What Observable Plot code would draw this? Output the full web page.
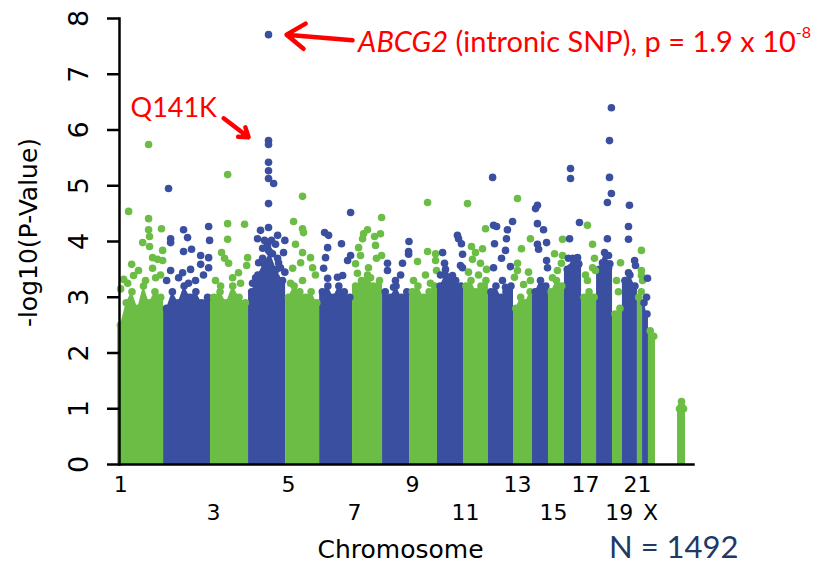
<!DOCTYPE html>
<html><head><meta charset="utf-8">
<script src="https://cdn.jsdelivr.net/npm/d3@7"></script>
<script src="https://cdn.jsdelivr.net/npm/@observablehq/plot@0.6"></script>
<style>
body{margin:0;background:#fff;}
#chart{width:821px;height:565px;}
</style></head><body><div id="chart"></div>
<script>
// Chromosomes (cumulative genome position, Mb)
const chroms = ["1","2","3","4","5","6","7","8","9","10","11","12","13","14","15","16","17","18","19","20","21","22","X","XY"];
const chromGroup = ["A","B","A","B","A","B","A","B","A","B","A","B","A","B","A","B","A","B","A","B","A","B","A","A"];
const chromStart = [0,242,489,689,884,1063,1236,1394,1536,1683,1820,1951,2083,2183,2267,2351,2441,2520,2604,2656,2735,2762,2793,2946];
const chromEnd   = [242,489,689,884,1063,1236,1394,1536,1683,1820,1951,2083,2183,2267,2351,2441,2520,2604,2656,2735,2762,2793,2830,2988];
// top of the dense (solid) cloud of SNPs across each chromosome, -log10(p)
const chromProfile = [
  [2.5,2.9,3.1,2.8,3.2,2.9,3.1,3.0],
  [2.8,3.1,2.9,3.2,3.0,3.1,2.9,3.0],
  [3.0,3.1,2.9,3.2,3.0,2.9],
  [3.1,3.4,3.6,3.8,3.5,3.3],
  [3.0,3.2,3.1,3.0,3.1,2.9],
  [3.1,3.2,3.0,3.2,3.1,3.0],
  [3.2,3.3,3.4,3.2,3.3],
  [3.1,3.0,3.2,3.0,3.1],
  [3.1,3.2,3.0,3.1,3.2],
  [3.2,3.4,3.2,3.3,3.2],
  [3.2,3.3,3.1,3.2,3.3],
  [3.1,3.2,3.0,3.1,3.2],
  [2.8,3.0,2.9,3.1],
  [3.1,3.3,3.2],
  [3.1,3.3,3.2],
  [3.5,3.7,3.6],
  [3.0,3.1,3.0],
  [3.5,3.8,3.6],
  [2.7,2.8],
  [3.3,3.4,3.2],
  [3.0,3.1],
  [2.9,2.7],
  [2.4,2.3],
  [1.0,1.0]
];
// individual SNPs above the dense cloud: [chromosome, position (Mb), -log10(p)]
const hitPoints = [
  ["1",163,5.74],["1",58,4.54],["1",163,4.41],["1",163,4.21],["1",231,4.23],["1",168,4.09],["1",132,3.98],["1",168,3.91],["1",237,3.84],["1",184,3.71],["1",210,3.68],["1",237,3.66],["1",74,3.59],["1",110,3.48],["1",184,3.52],["1",84,3.39],["1",32,3.32],["1",147,3.30],["1",200,3.35],["1",53,3.25],["1",226,3.40],["1",16,3.15],
  ["2",268,4.95],["2",347,4.21],["2",368,4.07],["2",279,4.05],["2",279,3.98],["2",347,3.82],["2",389,3.86],["2",437,3.75],["2",479,4.27],["2",484,4.02],["2",279,3.48],["2",342,3.44],["2",384,3.50],["2",437,3.59],["2",479,3.71],["2",479,3.53],["2",410,3.30],["2",321,3.35],["2",373,3.25],["2",452,3.40],["2",258,3.30],
  ["3",579,5.20],["3",579,4.32],["3",668,4.31],["3",579,4.04],["3",547,3.80],["3",563,3.70],["3",584,3.61],["3",636,3.44],["3",684,3.71],["3",679,3.57],["3",605,3.35],["3",515,3.30],["3",647,3.25],["3",542,3.20],
  ["4",794,7.71],["4",794,5.81],["4",794,5.74],["4",794,5.42],["4",794,5.27],["4",794,5.13],["4",821,5.04],["4",794,4.68],["4",736,4.05],["4",752,4.20],["4",794,4.25],["4",842,4.11],["4",880,4.02],["4",789,3.93],["4",794,3.84],["4",873,3.80],["4",763,3.70],["4",842,3.70],["4",778,3.53],["4",857,3.53],["4",794,3.43],["4",726,3.35],["4",773,4.02],["4",810,4.02],["4",831,3.95],["4",763,3.88],["4",815,3.78],["4",742,3.62],["4",847,3.62],["4",880,3.45],["4",710,3.25],["4",805,3.30],
  ["5",973,4.81],["5",973,4.23],["5",926,4.36],["5",973,3.80],["5",921,3.52],["5",973,3.30],["5",978,4.16],["5",1015,3.71],["5",1026,3.53],["5",936,3.95],["5",963,3.62],["5",1041,3.40],["5",910,3.25],
  ["6",1226,4.52],["6",1089,4.16],["6",1110,4.11],["6",1178,3.96],["6",1105,3.89],["6",1094,3.71],["6",1084,3.52],["6",1105,3.34],["6",1210,3.66],["6",1226,3.75],["6",1157,3.36],["6",1184,3.39],
  ["7",1389,4.43],["7",1315,4.21],["7",1294,4.14],["7",1289,4.05],["7",1352,4.09],["7",1383,4.14],["7",1268,3.89],["7",1278,3.75],["7",1320,3.53],["7",1262,3.43],["7",1357,3.93],["7",1362,3.70],["7",1389,3.75],["7",1252,3.60],["7",1331,3.35],
  ["8",1420,3.61],["8",1420,3.48],["8",1452,3.18],["8",1533,4.00],["8",1531,3.82],["8",1531,3.77],["8",1499,3.61],["8",1489,3.40],["8",1462,3.30],
  ["9",1631,4.70],["9",1631,3.82],["9",1673,3.78],["9",1578,3.64],["9",1673,3.66],["9",1678,3.48],["9",1620,3.40],["9",1557,3.30],["9",1646,3.25],
  ["10",1788,4.11],["10",1794,4.05],["10",1809,3.96],["10",1720,3.61],["10",1725,3.50],["10",1762,3.39],["10",1804,3.57],["10",1815,3.53],["10",1815,3.77],["10",1710,3.80],["10",1746,3.30],["10",1699,3.40],
  ["11",1841,4.68],["11",1862,3.91],["11",1883,3.80],["11",1920,3.87],["11",1867,3.68],["11",1909,3.61],["11",1936,4.23],["11",1899,3.40],["11",1846,3.45],["11",1941,3.50],
  ["12",1973,5.15],["12",1978,4.29],["12",1994,4.27],["12",2078,4.36],["12",1983,3.96],["12",2046,4.05],["12",2041,3.84],["12",2020,3.70],["12",1978,3.53],["12",2025,3.30],["12",2041,3.18],["12",2051,4.21],["12",2067,3.55],
  ["13",2104,4.77],["13",2125,3.87],["13",2104,3.61],["13",2104,3.48],["13",2088,3.36],["13",2136,3.23],["13",2172,4.05],["13",2162,3.45],["13",2172,3.30],
  ["14",2209,4.65],["14",2199,4.59],["14",2209,4.32],["14",2241,4.21],["14",2209,3.95],["14",2215,3.86],["14",2257,3.98],["14",2257,3.66],["14",2262,3.53],
  ["15",2341,4.04],["15",2299,3.78],["15",2341,3.75],["15",2335,3.61],["15",2314,3.48],["15",2288,3.35],
  ["16",2383,5.31],["16",2383,5.13],["16",2430,4.34],["16",2378,4.05],["16",2372,3.70],["16",2420,3.71],["16",2425,3.59],["16",2383,3.53],
  ["17",2472,4.29],["17",2499,3.95],["17",2472,3.30],["17",2509,3.70],["17",2499,3.53],["17",2514,3.48],["17",2462,3.40],
  ["18",2598,6.40],["18",2588,5.81],["18",2588,5.15],["18",2598,4.86],["18",2577,4.70],["18",2577,4.05],["18",2583,3.75],["18",2551,3.62],["18",2583,3.53],["18",2562,3.40],
  ["19",2646,3.62],["19",2625,3.30],["19",2635,3.10],
  ["20",2693,4.65],["20",2688,4.27],["20",2688,4.04],["20",2720,3.66],["20",2725,3.57],["20",2688,3.44],
  ["21",2756,3.84],["21",2756,3.48],["21",2756,3.39],["21",2762,3.30],
  ["22",2788,3.34],["22",2783,3.00],
  ["XY",2967,1.13],["XY",2967,1.05]
];
const yTicks = [0,1,2,3,4,5,6,7,8];
const xTickLabels = ["1","3","5","7","9","11","13","15","17","19","21","X"];
const xTickPos    = [16,505,899,1247,1552,1830,2104,2293,2462,2640,2735,2804];
const xTickRow    = [0,1,0,1,0,1,0,1,0,1,0,1];

const GREEN = "#6cbd45", BLUE = "#3a4f9f", RED = "#ff0000", NAVY = "#203864";

// build rows for the dense cloud
const bandRows = [], bandTops = [];
chroms.forEach((c, i) => {
  const p = chromProfile[i], s = chromStart[i], e = chromEnd[i], n = p.length;
  bandRows.push({chrom: c, group: chromGroup[i], pos: s, val: p[0]});
  p.forEach((v, j) => {
    const row = {chrom: c, group: chromGroup[i], pos: s + (j + 0.5) / n * (e - s), val: v};
    bandRows.push(row); bandTops.push(row);
  });
  bandRows.push({chrom: c, group: chromGroup[i], pos: e, val: p[n - 1]});
});
const groupOf = Object.fromEntries(chroms.map((c, i) => [c, chromGroup[i]]));
const hits = hitPoints.map(([c, pos, val]) => ({chrom: c, group: groupOf[c], pos, val}));
const ticks = xTickLabels.map((t, i) => ({label: t, pos: xTickPos[i], row: xTickRow[i]}));

const annotArrows = [
  {x1: 1236, y1: 7.61, x2: 889, y2: 7.71},
  {x1: 558, y1: 6.21, x2: 689, y2: 5.87}
];

const plot = Plot.plot({
  width: 821, height: 565,
  marginLeft: 119, marginRight: 128, marginTop: 18, marginBottom: 101,
  style: {fontFamily: "DejaVu Sans", background: "#fff", color: "#000"},
  x: {domain: [10, 3030], axis: null},
  y: {domain: [0, 8]},
  color: {domain: ["A", "B"], range: [GREEN, BLUE]},
  marks: [
    Plot.areaY(bandRows, {x: "pos", y1: 0, y2: "val", z: "chrom", fill: "group", curve: "linear"}),
    Plot.dot(bandTops, {x: "pos", y: "val", r: 3.8, fill: "group"}),
    Plot.dot(hits, {x: "pos", y: "val", r: 3.8, fill: "group"}),
    Plot.frame({anchor: "left", strokeWidth: 2.5}),
    Plot.frame({anchor: "bottom", strokeWidth: 2.5}),
    Plot.axisY({ticks: yTicks, tickSize: 12, tickFormat: () => "", strokeWidth: 2.5, label: null}),
    Plot.text(yTicks, {y: d => d, text: d => String(d), frameAnchor: "left", dx: -40, rotate: -90,
      textAnchor: "middle", lineAnchor: "middle", fontSize: 27, fill: "#000"}),
    Plot.text(["-log10(P-Value)"], {frameAnchor: "left", dx: -91, dy: -9, rotate: -90,
      textAnchor: "middle", lineAnchor: "middle", fontSize: 25, fill: "#000"}),
    Plot.text(ticks.filter(d => d.row === 0), {x: "pos", text: "label", frameAnchor: "bottom", dy: 20,
      lineAnchor: "middle", fontSize: 22, fill: "#000"}),
    Plot.text(ticks.filter(d => d.row === 1), {x: "pos", text: "label", frameAnchor: "bottom", dy: 48,
      lineAnchor: "middle", fontSize: 22, fill: "#000"}),
    Plot.text(["Chromosome"], {frameAnchor: "bottom", dx: -6, dy: 85, lineAnchor: "middle", fontSize: 25, fill: "#000"}),
    Plot.text(["N = 1492"], {frameAnchor: "bottom-right", dx: 45, dy: 84, textAnchor: "end", lineAnchor: "middle",
      fontSize: 31, fontFamily: "Lato", fill: NAVY}),
    Plot.arrow(annotArrows, {x1: "x1", y1: "y1", x2: "x2", y2: "y2", stroke: RED, strokeWidth: 4.5,
      headLength: 14, headAngle: 70}),
    Plot.text(["Q141K"], {x: 68, y: 6.39, textAnchor: "start", lineAnchor: "middle", fontSize: 27,
      fontFamily: "Lato", fill: RED})
  ]
});

document.getElementById("chart").appendChild(plot);

// ABCG2 annotation with italic gene name and superscript exponent
const xs = plot.scale("x"), ys = plot.scale("y");
const t = d3.select(plot).append("text")
  .attr("x", xs.apply(1268)).attr("y", ys.apply(7.39))
  .attr("text-anchor", "start")
  .attr("fill", RED).style("font-family", "Lato").style("font-size", "29px");
t.append("tspan").style("font-style", "italic").text("ABCG2");
t.append("tspan").text(" (intronic SNP), p = 1.9 x 10");
t.append("tspan").attr("dy", -14).style("font-size", "16px").text("-8");
</script>
</body></html>
